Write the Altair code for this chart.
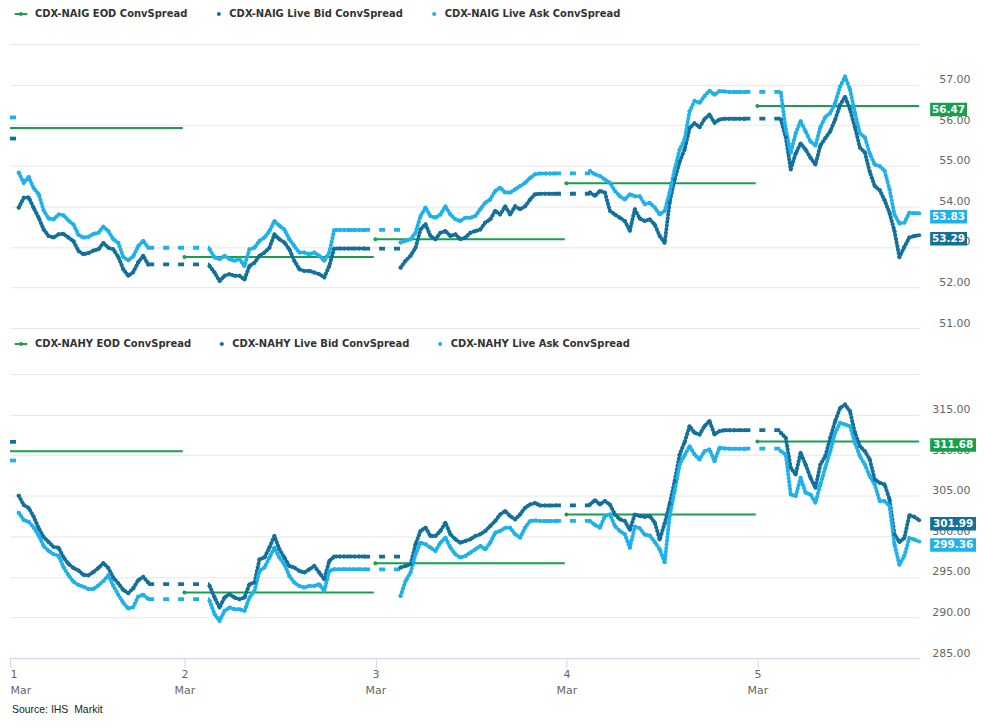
import altair as alt
import pandas as pd

# ---------------- data ----------------
SERIES_IG = ["CDX-NAIG EOD ConvSpread", "CDX-NAIG Live Bid ConvSpread", "CDX-NAIG Live Ask ConvSpread"]
SERIES_HY = ["CDX-NAHY EOD ConvSpread", "CDX-NAHY Live Bid ConvSpread", "CDX-NAHY Live Ask ConvSpread"]
COLORS = ["#17a04c", "#13709a", "#1fb1e9"]

X_START = "2021-03-01T02:05"
X_END = "2021-03-05T20:20"
DAY_TICKS = ["2021-03-01T02:05", "2021-03-02T00:00", "2021-03-03T00:00", "2021-03-04T00:00", "2021-03-05T00:00"]

SESSION_START = ["2021-03-01T03:11", "2021-03-02T03:10", "2021-03-03T03:10", "2021-03-04T02:58", "2021-03-05T02:57"]
SESSION_END = ["2021-03-01T19:27", "2021-03-02T22:35", "2021-03-03T22:34", "2021-03-04T22:22", "2021-03-05T20:20"]

GAP_START = ["2021-03-01T02:05", "2021-03-01T19:27", "2021-03-02T22:35", "2021-03-03T22:34", "2021-03-04T22:22"]
GAP_END = ["2021-03-01T03:11", "2021-03-02T03:10", "2021-03-03T03:10", "2021-03-04T02:58", "2021-03-05T02:57"]

EOD_START = ["2021-03-01T02:05", "2021-03-02T00:00", "2021-03-03T00:00", "2021-03-04T00:00", "2021-03-05T00:00"]
EOD_END = ["2021-03-01T23:48", "2021-03-02T23:48", "2021-03-03T23:48", "2021-03-04T23:48", "2021-03-05T20:20"]

# --- CDX-NAIG ---
IG_EOD = [55.93, 52.75, 53.19, 54.57, 56.47]
IG_GAP_BID = [55.67, 52.57, 52.96, 54.31, 56.16]
IG_GAP_ASK = [56.19, 52.98, 53.42, 54.81, 56.82]
IG_BID = [
    [53.97, 54.21, 54.22, 53.96, 53.72, 53.43, 53.27, 53.23, 53.31, 53.32, 53.23, 53.14, 52.90, 52.82,
     52.85, 52.91, 52.94, 53.10, 52.98, 52.94, 52.75, 52.45, 52.29, 52.38, 52.62, 52.78, 52.57],
    [52.53, 52.37, 52.16, 52.29, 52.33, 52.29, 52.29, 52.20, 52.53, 52.61, 52.78, 52.86, 52.98, 53.31,
     53.19, 53.11, 52.94, 52.66, 52.45, 52.41, 52.41, 52.37, 52.33, 52.25, 52.53, 52.96, 52.96, 52.96,
     52.96, 52.96, 52.96, 52.96],
    [52.49, 52.66, 52.78, 52.98, 53.43, 53.56, 53.27, 53.19, 53.35, 53.39, 53.27, 53.31, 53.19, 53.23,
     53.35, 53.39, 53.43, 53.60, 53.68, 53.89, 53.80, 54.00, 53.80, 54.00, 53.93, 54.00, 54.17, 54.30,
     54.31, 54.31, 54.31, 54.31],
    [54.34, 54.26, 54.38, 54.34, 53.89, 53.80, 53.72, 53.64, 53.40, 53.93, 53.70, 53.64, 53.68, 53.55,
     53.27, 53.10, 54.10, 54.66, 55.10, 55.40, 55.93, 56.05, 55.95, 56.15, 56.26, 56.06, 56.14, 56.16,
     56.16, 56.16, 56.16, 56.16],
    [56.14, 55.70, 54.91, 55.30, 55.55, 55.40, 55.20, 55.03, 55.50, 55.68, 55.85, 56.14, 56.50, 56.70,
     56.39, 55.95, 55.45, 55.33, 54.85, 54.50, 54.40, 54.15, 53.84, 53.39, 52.75, 53.00, 53.23, 53.27,
     53.29],
]
IG_ASK = [
    [54.83, 54.58, 54.72, 54.45, 54.30, 53.90, 53.70, 53.68, 53.80, 53.78, 53.65, 53.55, 53.30, 53.23,
     53.25, 53.32, 53.35, 53.50, 53.39, 53.19, 53.10, 52.75, 52.67, 52.77, 53.02, 53.15, 52.98],
    [52.94, 52.74, 52.70, 52.78, 52.70, 52.66, 52.70, 52.53, 52.94, 52.98, 53.15, 53.23, 53.39, 53.64,
     53.52, 53.43, 53.19, 53.02, 52.86, 52.86, 52.82, 52.86, 52.78, 52.66, 52.86, 53.42, 53.42, 53.42,
     53.42, 53.42, 53.42, 53.42],
    [53.11, 53.15, 53.19, 53.35, 53.76, 53.97, 53.76, 53.72, 53.80, 54.00, 53.80, 53.68, 53.64, 53.72,
     53.72, 53.76, 53.93, 54.09, 54.17, 54.38, 54.46, 54.34, 54.34, 54.42, 54.50, 54.58, 54.70, 54.79,
     54.81, 54.81, 54.81, 54.81],
    [54.87, 54.79, 54.75, 54.66, 54.58, 54.38, 54.25, 54.17, 54.30, 54.25, 54.25, 54.05, 54.09, 53.97,
     53.80, 53.89, 54.35, 54.91, 55.40, 55.65, 56.34, 56.60, 56.55, 56.72, 56.85, 56.75, 56.84, 56.83,
     56.82, 56.82, 56.82, 56.82],
    [56.80, 55.90, 55.32, 55.80, 56.10, 55.85, 55.60, 55.50, 55.95, 56.20, 56.30, 56.55, 56.95, 57.20,
     56.88, 56.30, 55.80, 55.70, 55.30, 55.03, 54.99, 54.88, 54.42, 53.80, 53.58, 53.60, 53.84, 53.83,
     53.83],
]
IG_LAST = [56.47, 53.29, 53.83]

# --- CDX-NAHY ---
HY_EOD = [310.49, 293.07, 296.68, 302.70, 311.68]
HY_GAP_BID = [311.64, 294.10, 297.50, 303.80, 313.07]
HY_GAP_ASK = [309.34, 292.25, 295.94, 301.89, 310.80]
HY_BID = [
    [305.00, 303.85, 303.50, 302.40, 301.00, 299.90, 299.30, 298.70, 298.60, 297.40, 296.60, 296.10,
     295.80, 295.25, 295.20, 295.60, 296.10, 296.70, 296.10, 294.90, 294.20, 293.40, 293.00, 293.60,
     294.60, 295.00, 294.30],
    [293.89, 292.46, 291.23, 292.46, 292.87, 292.46, 292.25, 292.46, 294.10, 294.30, 297.17, 297.38,
     298.61, 300.04, 298.40, 297.38, 296.35, 296.15, 295.74, 295.53, 295.94, 296.35, 295.53, 294.71,
     296.97, 297.50, 297.50, 297.50, 297.50, 297.50, 297.50, 297.50],
    [296.15, 296.35, 296.56, 299.02, 300.66, 301.07, 300.04, 300.04, 300.66, 301.68, 300.25, 299.63,
     299.22, 299.43, 299.63, 300.04, 300.25, 300.66, 301.27, 301.89, 302.70, 303.11, 302.50, 302.09,
     302.70, 303.52, 303.93, 304.10, 303.80, 303.80, 303.80, 303.80],
    [303.93, 304.45, 303.93, 304.34, 303.93, 302.70, 302.09, 301.89, 300.80, 302.70, 302.50, 302.40,
     302.50, 301.70, 299.60, 301.60, 304.00, 306.80, 310.08, 311.60, 313.57, 312.75, 312.54, 313.57,
     314.20, 312.54, 312.95, 313.07, 313.07, 313.07, 313.07, 313.07],
    [312.75, 312.13, 308.44, 307.62, 310.29, 308.85, 307.21, 305.98, 308.85, 309.88, 312.13, 314.18,
     315.82, 316.23, 315.41, 312.75, 311.11, 310.49, 309.47, 307.01, 306.60, 306.39, 304.55, 300.25,
     299.30, 299.80, 302.60, 302.40, 301.99],
]
HY_ASK = [
    [302.90, 302.00, 301.80, 301.10, 300.10, 298.80, 298.20, 297.80, 297.60, 296.20, 295.20, 294.40,
     294.00, 293.80, 293.50, 293.50, 293.95, 294.50, 295.20, 293.90, 292.80, 291.80, 291.10, 291.30,
     292.60, 292.80, 292.30],
    [292.05, 290.41, 289.59, 290.82, 291.23, 291.02, 291.02, 290.82, 292.46, 293.28, 295.74, 296.15,
     297.38, 298.61, 297.38, 296.56, 295.12, 294.30, 293.89, 293.69, 293.89, 293.89, 294.10, 293.28,
     295.74, 295.94, 295.94, 295.94, 295.94, 295.94, 295.94, 295.94],
    [292.66, 294.51, 295.53, 297.79, 299.22, 299.02, 298.61, 298.20, 299.22, 299.84, 298.61, 297.79,
     297.38, 297.58, 297.99, 298.40, 298.81, 298.40, 299.22, 300.45, 300.66, 301.07, 301.07, 300.25,
     299.84, 301.07, 301.89, 301.95, 301.89, 301.89, 301.89, 301.89],
    [301.89, 301.40, 301.07, 302.50, 302.70, 301.27, 300.66, 300.25, 298.60, 301.20, 301.00, 300.20,
     300.10, 299.30, 298.40, 296.80, 302.50, 305.57, 308.85, 310.00, 311.11, 310.08, 309.47, 310.49,
     310.70, 309.26, 310.90, 310.82, 310.80, 310.80, 310.80, 310.80],
    [310.49, 310.08, 305.16, 304.96, 307.21, 305.37, 305.16, 304.14, 306.39, 308.44, 310.49, 312.75,
     313.98, 313.77, 313.57, 311.52, 309.88, 308.85, 307.42, 306.39, 304.34, 304.34, 303.73, 299.02,
     296.50, 297.60, 299.80, 299.60, 299.36],
]
HY_LAST = [311.68, 301.99, 299.36]

SOURCE = "Source: IHS\u00a0 Markit"

# ---------------- helpers ----------------
W = 912
H = 285


def dt(s):
    t = pd.Timestamp(s)
    return alt.DateTime(year=t.year, month=t.month, date=t.day, hours=t.hour, minutes=t.minute)


X_SCALE = alt.Scale(domain=[dt(X_START), dt(X_END)])

X_AXIS = alt.Axis(
    values=[dt(s) for s in DAY_TICKS],
    labelExpr="[timeFormat(datum.value, '%-d'), timeFormat(datum.value, '%b')]",
    grid=False, domainColor="#ccd6eb", tickColor="#ccd6eb", tickSize=9,
    labelPadding=1, labelFont="DejaVu Sans", labelFontSize=11, labelColor="#666666",
    labelLineHeight=17, labelBaseline="top", title=None, labelFlush=True,
)

EOD_PATH = ("M-1.25,-0.2L1.25,-0.2L1.25,0.2L-1.25,0.2Z "
            "M-0.4,0A0.4,0.4 0 1 1 0.4,0A0.4,0.4 0 1 1 -0.4,0Z")
DOT_PATH = "M0.3,0A0.4,0.4 0 1 1 1.1,0A0.4,0.4 0 1 1 0.3,0Z"


def session_frame(series, bids, asks):
    rows = []
    for name, lists in ((series[1], bids), (series[2], asks)):
        for k, vals in enumerate(lists):
            times = pd.date_range(SESSION_START[k], SESSION_END[k], periods=len(vals))
            for t, v in zip(times, vals):
                rows.append({"time": t, "value": v, "series": name, "session": k})
    return pd.DataFrame(rows)


def panel(series, bids, asks, gap_bid, gap_ask, eod, last, y_dom, y_step, hide_val,
          tag_w, show_x):
    cs = alt.Scale(domain=series, range=COLORS)
    ys = alt.Scale(domain=y_dom, nice=False, zero=False)
    y_vals = list(range(y_dom[0], y_dom[1] + 1, y_step))
    y_axis = alt.Axis(
        orient="right", values=y_vals,
        labelExpr=f"datum.value >= {hide_val} ? '' : format(datum.value, '.2f')",
        grid=True, gridColor="#e6e6e6", domain=False, ticks=False, tickSize=0,
        labelAlign="right", labelBaseline="bottom", labelPadding=51,
        labelFont="DejaVu Sans", labelFontSize=11, labelColor="#666666", title=None,
    )
    x_axis = X_AXIS if show_x else None

    def X(field):
        return alt.X(field, scale=X_SCALE, axis=x_axis, title=None)

    def Y():
        return alt.Y("value:Q", scale=ys, axis=y_axis, title=None)

    def C():
        return alt.Color("series:N", scale=cs, legend=None)

    eod_df = pd.DataFrame({"start": pd.to_datetime(EOD_START), "end": pd.to_datetime(EOD_END),
                           "value": eod, "series": series[0]})
    gap_df = pd.DataFrame({
        "start": pd.to_datetime(GAP_START + GAP_START),
        "end": pd.to_datetime(GAP_END + GAP_END),
        "value": gap_bid + gap_ask,
        "series": [series[1]] * len(gap_bid) + [series[2]] * len(gap_ask),
    })
    ses_df = session_frame(series, bids, asks)
    last_df = pd.DataFrame({"series": series, "value": last})

    leg = alt.Legend(
        title=None, orient="none", legendX=6, legendY=-35, direction="horizontal",
        labelFont="DejaVu Sans", labelFontSize=10, labelFontWeight="bold",
        labelColor="#333333", labelOffset=9, columnPadding=22, symbolSize=100,
        symbolOpacity=1, symbolStrokeWidth=0, padding=0, labelLimit=400,
    )
    legend_layer = alt.Chart(last_df).mark_point(filled=True, opacity=0).encode(
        x=alt.value(W / 2), y=Y(),
        color=alt.Color("series:N", scale=cs, legend=leg),
        shape=alt.Shape("series:N", scale=alt.Scale(domain=series, range=[EOD_PATH, DOT_PATH, DOT_PATH]),
                        legend=leg),
    )

    eod_rule = alt.Chart(eod_df).mark_rule(strokeWidth=2).encode(
        x=X("start:T"), x2="end:T", y=Y(), color=C())
    eod_dot = alt.Chart(eod_df.iloc[1:]).mark_circle(size=16, opacity=1).encode(
        x=X("start:T"), y=Y(), color=C())
    gaps = alt.Chart(gap_df).mark_rule(strokeWidth=3.8, strokeDash=[6, 9]).encode(
        x=X("start:T"), x2="end:T", y=Y(), color=C())
    lines = alt.Chart(ses_df).mark_line(strokeWidth=4, strokeJoin="round", strokeCap="round",
                                        strokeDash=[0.5, 3.2]).encode(
        x=X("time:T"), y=Y(), color=C(), detail="session:N")
    dots = alt.Chart(ses_df).mark_circle(size=16, opacity=1).encode(
        x=X("time:T"), y=Y(), color=C())

    half = 6.75 / (tag_w / 2)
    box_path = f"M-1,-{half:.4f}L1,-{half:.4f}L1,{half:.4f}L-1,{half:.4f}Z"
    cx = W + 11 + tag_w / 2
    tags = alt.Chart(last_df).mark_point(filled=True, opacity=1, shape=box_path,
                                         size=tag_w * tag_w, yOffset=3.5, strokeWidth=0).encode(
        x=alt.value(cx), y=Y(), color=C())
    tag_text = alt.Chart(last_df).mark_text(
        color="white", font="DejaVu Sans", fontSize=10.5, fontWeight="bold",
        align="center", baseline="middle", yOffset=3.5).encode(
        x=alt.value(cx), y=Y(), text=alt.Text("value:Q", format=".2f"))

    layers = [legend_layer, eod_rule, eod_dot, gaps, lines, dots, tags, tag_text]
    if show_x:
        src = alt.Chart(pd.DataFrame({"t": [SOURCE]})).mark_text(
            align="left", baseline="middle", font="Liberation Sans", fontSize=10.5,
            color="#222222").encode(x=alt.value(2), y=alt.value(H + 52), text="t:N")
        layers.append(src)
    return alt.layer(*layers).properties(width=W, height=H)


top = panel(SERIES_IG, IG_BID, IG_ASK, IG_GAP_BID, IG_GAP_ASK, IG_EOD, IG_LAST,
            [51, 58], 1, 58, 37, False)
bottom = panel(SERIES_HY, HY_BID, HY_ASK, HY_GAP_BID, HY_GAP_ASK, HY_EOD, HY_LAST,
               [285, 320], 5, 320, 46, True)

chart = alt.vconcat(top, bottom, spacing=11).resolve_scale(
    y="independent", color="independent", shape="independent"
).resolve_legend(color="independent", shape="independent").properties(
    padding={"left": 0, "top": 0, "right": 0, "bottom": 0},
    background="white",
).configure_view(stroke=None)

chart.save("out.html", embed_options={"renderer": "svg", "actions": False})
